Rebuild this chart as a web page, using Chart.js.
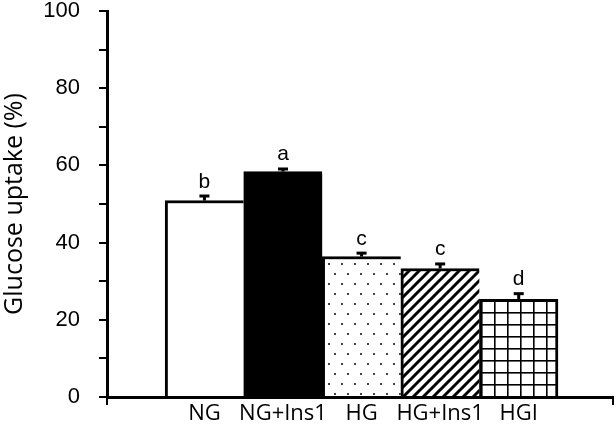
<!DOCTYPE html>
<html>
<head>
<meta charset="utf-8">
<script src="https://cdn.jsdelivr.net/npm/chart.js@4/dist/chart.umd.min.js"></script>
<style>
  html, body { margin: 0; padding: 0; background: #fff; }
  #wrap { width: 616px; height: 429px; }
</style>
</head>
<body>
<div id="wrap"><canvas id="grafico"></canvas></div>
<script>
const grupos = ["NG", "NG+Ins1", "HG", "HG+Ins1", "HGI"];
const posiciones = [1, 2, 3, 4, 5];
const captacion = [50.9, 58.4, 36.4, 33.3, 25.3];
const errores = [1.3, 0.8, 1.0, 1.3, 1.6];
const letras = ["b", "a", "c", "c", "d"];
const ticksY = [0, 20, 40, 60, 80, 100];

const X_MIN = -0.24, X_MAX = 6.2;

function patron(w, h, dibuja) {
  const c = document.createElement("canvas");
  c.width = w; c.height = h;
  const g = c.getContext("2d");
  g.fillStyle = "#fff";
  g.fillRect(0, 0, w, h);
  dibuja(g);
  return c.getContext("2d").createPattern(c, "repeat");
}

const puntos = patron(13, 20, g => {
  g.fillStyle = "#444";
  g.fillRect(3, 3, 2, 2);
  g.fillRect(9, 13, 2, 2);
});
const rayas = patron(10, 10, g => {
  g.strokeStyle = "#000";
  g.lineWidth = 3;
  g.beginPath();
  g.moveTo(-2, 12); g.lineTo(12, -2);
  g.moveTo(-2, 2); g.lineTo(2, -2);
  g.moveTo(8, 12); g.lineTo(12, 8);
  g.stroke();
});
const cuadros = patron(13, 12, g => {
  g.fillStyle = "#000";
  g.fillRect(0, 0, 13, 1.6);
  g.fillRect(0, 0, 1.6, 12);
});
const rellenos = ["#ffffff", "#000000", puntos, rayas, cuadros];

const barrasError = {
  id: "barrasError",
  afterDatasetsDraw(chart) {
    const ctx = chart.ctx;
    const xs = chart.scales.x, ys = chart.scales.y;
    ctx.save();
    captacion.forEach((v, i) => {
      const x = xs.getPixelForValue(posiciones[i]);
      const yb = ys.getPixelForValue(v);
      const yt = ys.getPixelForValue(v + errores[i]);
      ctx.fillStyle = "#000";
      ctx.fillRect(x - 1.5, yt, 3, yb - yt);
      ctx.fillRect(x - 5, yt - 1, 10, 3);
      ctx.font = "21px 'Liberation Sans', Arial, sans-serif";
      ctx.textAlign = "center";
      ctx.textBaseline = "alphabetic";
      ctx.fillText(letras[i], x, yt - 8);
    });
    ctx.restore();
  }
};

const miGrafico = new Chart(document.getElementById("grafico").getContext("2d"), {
  type: "bar",
  data: {
    datasets: [{
      label: "Glucose uptake",
      data: captacion.map((v, i) => ({ x: posiciones[i], y: v })),
      backgroundColor: rellenos,
      borderColor: "#000",
      borderWidth: ctx => ({ top: 3, left: 3, right: ctx.dataIndex === captacion.length - 1 ? 3 : 0, bottom: 0 }),
      borderSkipped: false,
      categoryPercentage: 1,
      barPercentage: 1
    }]
  },
  options: {
    responsive: true,
    maintainAspectRatio: false,
    animation: false,
    layout: { padding: { top: 11, right: 3, left: 0, bottom: 0 } },
    plugins: { legend: { display: false }, tooltip: { enabled: false } },
    scales: {
      x: {
        type: "linear",
        min: X_MIN,
        max: X_MAX,
        offset: false,
        afterBuildTicks: s => { s.ticks = [X_MIN].concat(posiciones, [X_MAX]).map(v => ({ value: v })); },
        afterFit: s => { s.height = 32; s.paddingLeft = 0; s.paddingRight = 0; },
        grid: {
          offset: false,
          drawOnChartArea: false,
          tickLength: 8,
          lineWidth: 2,
          color: ctx => (ctx.tick && (ctx.tick.value === X_MIN || ctx.tick.value === X_MAX)) ? "#000" : "rgba(0,0,0,0)"
        },
        border: { color: "#000", width: 3 },
        ticks: {
          autoSkip: false,
          maxRotation: 0,
          padding: -2,
          color: "#000",
          font: { family: "'Open Sans', sans-serif", size: 22, lineHeight: 1 },
          callback: v => grupos[posiciones.indexOf(v)] || ""
        }
      },
      y: {
        min: 0,
        max: 100,
        afterFit: s => { s.width = 107; s.paddingTop = 0; s.paddingBottom = 0; },
        afterBuildTicks: s => {
          const t = [];
          for (let v = 0; v <= 100; v += 10) t.push({ value: v });
          s.ticks = t;
        },
        grid: { drawOnChartArea: false, tickLength: 8, lineWidth: 2, color: "#000" },
        border: { color: "#000", width: 3 },
        ticks: {
          padding: 19,
          color: "#000",
          font: { family: "'Liberation Sans', Arial, sans-serif", size: 22, lineHeight: 1 },
          callback: v => ticksY.includes(v) ? String(v) : ""
        },
        title: {
          display: true,
          text: "Glucose uptake (%)",
          color: "#000",
          padding: 0,
          font: { family: "'Open Sans', sans-serif", size: 25 }
        }
      }
    }
  },
  plugins: [barrasError]
});
</script>
</body>
</html>
